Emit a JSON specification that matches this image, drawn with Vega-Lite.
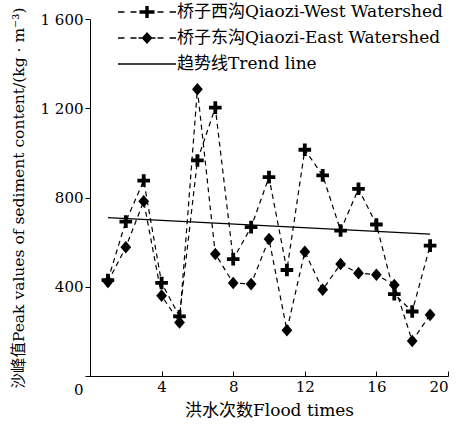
{
  "$schema": "https://vega.github.io/schema/vega-lite/v6.json",
  "width": 358,
  "height": 357,
  "autosize": "none",
  "padding": {"left": 90, "top": 19, "right": 20, "bottom": 52},
  "background": "white",
  "config": {
    "view": {"stroke": null},
    "font": "DejaVu Serif, Noto Sans CJK SC",
    "axis": {
      "grid": false,
      "domainColor": "black",
      "tickColor": "black",
      "labelColor": "black",
      "titleColor": "black",
      "labelFont": "DejaVu Serif, Noto Sans CJK SC",
      "titleFont": "DejaVu Serif, Noto Sans CJK SC",
      "labelFontSize": 15,
      "titleFontSize": 15.5,
      "titleFontWeight": "normal",
      "domainWidth": 1,
      "tickWidth": 1
    },
    "legend": {
      "labelFont": "DejaVu Serif, Noto Sans CJK SC",
      "labelFontSize": 17,
      "labelColor": "black",
      "labelLimit": 0
    }
  },
  "datasets": {
    "obs": [
      {"flood": 1, "series": "桥子西沟Qiaozi-West Watershed", "value": 430},
      {"flood": 2, "series": "桥子西沟Qiaozi-West Watershed", "value": 692},
      {"flood": 3, "series": "桥子西沟Qiaozi-West Watershed", "value": 876},
      {"flood": 4, "series": "桥子西沟Qiaozi-West Watershed", "value": 417},
      {"flood": 5, "series": "桥子西沟Qiaozi-West Watershed", "value": 267},
      {"flood": 6, "series": "桥子西沟Qiaozi-West Watershed", "value": 966},
      {"flood": 7, "series": "桥子西沟Qiaozi-West Watershed", "value": 1203},
      {"flood": 8, "series": "桥子西沟Qiaozi-West Watershed", "value": 524},
      {"flood": 9, "series": "桥子西沟Qiaozi-West Watershed", "value": 667},
      {"flood": 10, "series": "桥子西沟Qiaozi-West Watershed", "value": 891},
      {"flood": 11, "series": "桥子西沟Qiaozi-West Watershed", "value": 475},
      {"flood": 12, "series": "桥子西沟Qiaozi-West Watershed", "value": 1014},
      {"flood": 13, "series": "桥子西沟Qiaozi-West Watershed", "value": 899},
      {"flood": 14, "series": "桥子西沟Qiaozi-West Watershed", "value": 652},
      {"flood": 15, "series": "桥子西沟Qiaozi-West Watershed", "value": 839},
      {"flood": 16, "series": "桥子西沟Qiaozi-West Watershed", "value": 679},
      {"flood": 17, "series": "桥子西沟Qiaozi-West Watershed", "value": 367},
      {"flood": 18, "series": "桥子西沟Qiaozi-West Watershed", "value": 289},
      {"flood": 19, "series": "桥子西沟Qiaozi-West Watershed", "value": 584},
      {"flood": 1, "series": "桥子东沟Qiaozi-East Watershed", "value": 422},
      {"flood": 2, "series": "桥子东沟Qiaozi-East Watershed", "value": 577},
      {"flood": 3, "series": "桥子东沟Qiaozi-East Watershed", "value": 783},
      {"flood": 4, "series": "桥子东沟Qiaozi-East Watershed", "value": 360},
      {"flood": 5, "series": "桥子东沟Qiaozi-East Watershed", "value": 240},
      {"flood": 6, "series": "桥子东沟Qiaozi-East Watershed", "value": 1285},
      {"flood": 7, "series": "桥子东沟Qiaozi-East Watershed", "value": 547},
      {"flood": 8, "series": "桥子东沟Qiaozi-East Watershed", "value": 417},
      {"flood": 9, "series": "桥子东沟Qiaozi-East Watershed", "value": 412},
      {"flood": 10, "series": "桥子东沟Qiaozi-East Watershed", "value": 614},
      {"flood": 11, "series": "桥子东沟Qiaozi-East Watershed", "value": 205},
      {"flood": 12, "series": "桥子东沟Qiaozi-East Watershed", "value": 557},
      {"flood": 13, "series": "桥子东沟Qiaozi-East Watershed", "value": 387},
      {"flood": 14, "series": "桥子东沟Qiaozi-East Watershed", "value": 502},
      {"flood": 15, "series": "桥子东沟Qiaozi-East Watershed", "value": 461},
      {"flood": 16, "series": "桥子东沟Qiaozi-East Watershed", "value": 454},
      {"flood": 17, "series": "桥子东沟Qiaozi-East Watershed", "value": 408},
      {"flood": 18, "series": "桥子东沟Qiaozi-East Watershed", "value": 157},
      {"flood": 19, "series": "桥子东沟Qiaozi-East Watershed", "value": 274}
    ],
    "trend": [
      {"flood": 1, "series": "趋势线Trend line", "value": 710},
      {"flood": 19, "series": "趋势线Trend line", "value": 636}
    ]
  },
  "layer": [
    {
      "data": {"name": "obs"},
      "mark": {"type": "line", "color": "black", "strokeWidth": 1.2, "strokeDash": [5, 4]},
      "encoding": {
        "x": {
          "field": "flood", "type": "quantitative",
          "scale": {"domain": [0, 20]},
          "axis": {
            "values": [0, 4, 8, 12, 16, 20],
            "title": "洪水次数Flood times",
            "titleFontSize": 17,
            "tickSize": -5,
            "labelPadding": 8,
            "labelExpr": "datum.value == 0 ? '' : datum.label",
            "titlePadding": 8
          }
        },
        "y": {
          "field": "value", "type": "quantitative",
          "scale": {"domain": [0, 1600]},
          "axis": {
            "values": [0, 400, 800, 1200, 1600],
            "title": "沙峰值Peak values of sediment content/(kg · m⁻³)",
            "tickSize": 5,
            "labelPadding": 2,
            "labelExpr": "replace(format(datum.value, ','), ',', ' ')",
            "labelOffset": {"condition": {"test": "datum.value == 0", "value": 13}, "value": 0},
            "titlePadding": 14
          }
        },
        "detail": {"field": "series"}
      }
    },
    {
      "data": {"name": "trend"},
      "mark": {"type": "line", "color": "black", "strokeWidth": 1.3},
      "encoding": {
        "x": {"field": "flood", "type": "quantitative"},
        "y": {"field": "value", "type": "quantitative"}
      }
    },
    {
      "data": {"name": "obs"},
      "mark": {"type": "point", "filled": true, "color": "black", "opacity": 1, "size": 160},
      "encoding": {
        "x": {"field": "flood", "type": "quantitative"},
        "y": {"field": "value", "type": "quantitative"},
        "shape": {
          "field": "series", "type": "nominal",
          "scale": {
            "domain": ["桥子西沟Qiaozi-West Watershed", "桥子东沟Qiaozi-East Watershed"],
            "range": ["M-0.3,-1H0.3V-0.3H1V0.3H0.3V1H-0.3V0.3H-1V-0.3H-0.3Z", "M0,-1L0.85,0L0,1L-0.85,0Z"]
          },
          "legend": null
        }
      }
    },
    {
      "data": {"name": "obs"},
      "transform": [{"filter": "datum.flood < 0"}],
      "mark": {"type": "point", "filled": true, "color": "black", "opacity": 1},
      "encoding": {
        "x": {"field": "flood", "type": "quantitative"},
        "y": {"field": "value", "type": "quantitative"},
        "shape": {
          "field": "series", "type": "nominal",
          "scale": {
            "domain": ["桥子西沟Qiaozi-West Watershed", "桥子东沟Qiaozi-East Watershed", "趋势线Trend line"],
            "range": [
              "M-2.9,-0.065H-2.25V0.065H-2.9ZM-1.65,-0.065H-1.05V0.065H-1.65ZM1.05,-0.065H1.65V0.065H1.05ZM2.25,-0.065H2.9V0.065H2.25ZM-0.17,-0.6H0.17V-0.17H0.75V0.17H0.17V0.6H-0.17V0.17H-0.75V-0.17H-0.17Z",
              "M-2.9,-0.065H-2.25V0.065H-2.9ZM-1.65,-0.065H-1.05V0.065H-1.65ZM1.05,-0.065H1.65V0.065H1.05ZM2.25,-0.065H2.9V0.065H2.25ZM-0.85,-0.065H0.85V0.065H-0.85ZM0,-0.6L0.55,0L0,0.6L-0.55,0Z",
              "M-2.9,-0.065H2.9V0.065H-2.9Z"
            ]
          },
          "legend": {
            "title": null,
            "orient": "none",
            "legendX": 47,
            "legendY": -17,
            "symbolSize": 400,
            "symbolFillColor": "black",
            "symbolStrokeColor": "black",
            "symbolStrokeWidth": 0,
            "labelOffset": 20,
            "rowPadding": 8
          }
        }
      }
    }
  ],
  "resolve": {"scale": {"shape": "independent"}, "legend": {"shape": "independent"}}
}
